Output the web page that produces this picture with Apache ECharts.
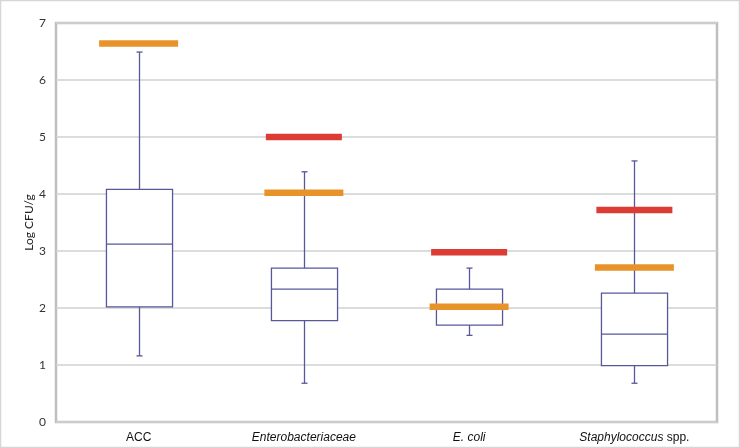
<!DOCTYPE html>
<html>
<head>
<meta charset="utf-8">
<script src="https://cdn.jsdelivr.net/npm/echarts@6/dist/echarts.min.js"></script>
<style>
  html, body { margin: 0; padding: 0; background: #fff; }
  #chart { width: 740px; height: 448px; }
</style>
</head>
<body>
<div id="chart"></div>
<script>
// categories and box statistics (Log CFU/g)
const categories = ['ACC', 'Enterobacteriaceae', 'E. coli', 'Staphylococcus spp.'];
const boxMin = [1.16, 0.68, 1.52, 0.68];
const boxQ1 = [2.02, 1.78, 1.70, 0.99];
const boxMedian = [3.12, 2.33, 2.00, 1.54];
const boxQ3 = [4.08, 2.70, 2.33, 2.26];
const boxMax = [6.49, 4.39, 2.70, 4.58];
// limit lines
const orangeLimit = [6.64, 4.02, 2.02, 2.71];
const redLimit = [null, 5.0, 2.98, 3.72];
const yTicks = [0, 1, 2, 3, 4, 5, 6, 7];

const boxColor = '#57579a';
const orange = '#e8922a';
const red = '#dc3c34';

const boxData = categories.map((c, i) => [i, boxMin[i], boxQ1[i], boxMedian[i], boxQ3[i], boxMax[i]]);

function renderBox(params, api) {
  const idx = api.value(0);
  const pMin = api.coord([idx, api.value(1)]);
  const pQ1 = api.coord([idx, api.value(2)]);
  const pMed = api.coord([idx, api.value(3)]);
  const pQ3 = api.coord([idx, api.value(4)]);
  const pMax = api.coord([idx, api.value(5)]);
  const band = api.size([1, 0])[0];
  const half = band * 0.2;
  const cap = 3;
  const x = Math.round(pMin[0]) + 0.5;
  const style = { stroke: boxColor, lineWidth: 1.3, fill: null };
  return {
    type: 'group',
    children: [
      { type: 'rect', shape: { x: x - half, y: pQ3[1], width: half * 2, height: pQ1[1] - pQ3[1] }, style: { stroke: boxColor, lineWidth: 1.3, fill: '#fff' } },
      { type: 'line', shape: { x1: x - half, y1: pMed[1], x2: x + half, y2: pMed[1] }, style: style },
      { type: 'line', shape: { x1: x, y1: pQ3[1], x2: x, y2: pMax[1] }, style: style },
      { type: 'line', shape: { x1: x, y1: pQ1[1], x2: x, y2: pMin[1] }, style: style },
      { type: 'line', shape: { x1: x - cap, y1: pMax[1], x2: x + cap, y2: pMax[1] }, style: style },
      { type: 'line', shape: { x1: x - cap, y1: pMin[1], x2: x + cap, y2: pMin[1] }, style: style }
    ]
  };
}

const chart = echarts.init(document.getElementById('chart'));

chart.setOption({
  animation: false,
  backgroundColor: '#fff',
  graphic: [{
    type: 'rect',
    shape: { x: 0.5, y: 0.5, width: 739, height: 447 },
    style: { fill: null, stroke: '#d6d6d6', lineWidth: 1.5 },
    z: 100
  }],
  grid: {
    left: 56, right: 23, top: 23, bottom: 26,
    show: true,
    borderColor: '#bfbfbf',
    borderWidth: 2.5,
    backgroundColor: '#fff'
  },
  xAxis: {
    type: 'category',
    data: categories,
    boundaryGap: true,
    axisLine: { show: false },
    axisTick: { show: false },
    axisLabel: {
      interval: 0,
      margin: 10,
      fontFamily: 'Liberation Sans',
      fontSize: 12,
      color: '#111',
      formatter: function (v) {
        if (v === 'ACC') return '{n|ACC}';
        if (v === 'Staphylococcus spp.') return '{i|Staphylococcus} {n|spp.}';
        return '{i|' + v + '}';
      },
      rich: {
        n: { fontFamily: 'Liberation Sans', fontSize: 12, color: '#111' },
        i: { fontFamily: 'Liberation Sans', fontSize: 12, fontStyle: 'italic', color: '#111' }
      }
    }
  },
  yAxis: {
    type: 'value',
    min: yTicks[0],
    max: yTicks[yTicks.length - 1],
    interval: 1,
    name: 'Log CFU/g',
    nameLocation: 'middle',
    nameGap: 21,
    nameMoveOverlap: false,
    nameRotate: 90,
    nameTextStyle: { fontFamily: 'Lato', fontSize: 12, color: '#222' },
    axisLine: { show: false },
    axisTick: { show: false },
    axisLabel: { margin: 10, fontFamily: 'Lato', fontSize: 12, color: '#333' },
    splitLine: { lineStyle: { color: '#d0d0d0', width: 1.5 } }
  },
  series: [
    {
      type: 'custom',
      name: 'box',
      renderItem: renderBox,
      data: boxData,
      encode: { x: 0, y: [1, 2, 3, 4, 5] },
      z: 2
    },
    {
      type: 'scatter',
      name: 'orange',
      data: orangeLimit.map((v, i) => [i, v]),
      symbol: 'rect',
      symbolSize: [79, 6.5],
      itemStyle: { color: orange, opacity: 1 },
      z: 3
    },
    {
      type: 'scatter',
      name: 'red',
      data: redLimit.map((v, i) => (v == null ? null : [i, v])).filter(d => d),
      symbol: 'rect',
      symbolSize: [76, 6.5],
      itemStyle: { color: red, opacity: 1 },
      z: 3
    }
  ]
});
</script>
</body>
</html>
